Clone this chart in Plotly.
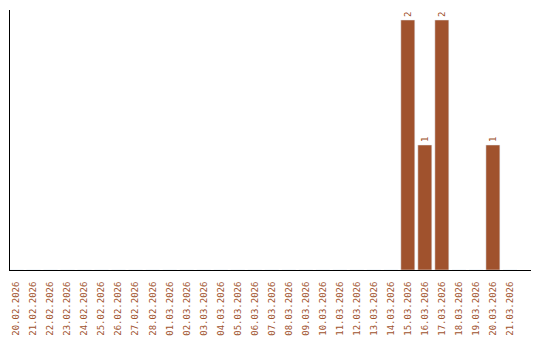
import plotly.graph_objects as go

dates = ["20.02.2026", "21.02.2026", "22.02.2026", "23.02.2026", "24.02.2026",
         "25.02.2026", "26.02.2026", "27.02.2026", "28.02.2026", "01.03.2026",
         "02.03.2026", "03.03.2026", "04.03.2026", "05.03.2026", "06.03.2026",
         "07.03.2026", "08.03.2026", "09.03.2026", "10.03.2026", "11.03.2026",
         "12.03.2026", "13.03.2026", "14.03.2026", "15.03.2026", "16.03.2026",
         "17.03.2026", "18.03.2026", "19.03.2026", "20.03.2026", "21.03.2026"]
counts = [0, 0, 0, 0, 0, 0, 0, 0, 0, 0,
          0, 0, 0, 0, 0, 0, 0, 0, 0, 0,
          0, 0, 0, 2, 1, 2, 0, 0, 1, 0]

color = "#a0522d"
labels = [str(v) if v else "" for v in counts]

fig = go.Figure(go.Bar(
    x=dates, y=counts, marker_color=color, width=0.82,
    text=labels, textposition="outside", textangle=-90,
    textfont=dict(family="DejaVu Sans Mono", size=9, color=color),
    cliponaxis=False,
))
fig.update_layout(
    width=540, height=340,
    margin=dict(l=10, r=9, t=10, b=70, autoexpand=False),
    plot_bgcolor="white", paper_bgcolor="white",
    showlegend=False,
    xaxis=dict(type="category", range=[-0.38, 30.24], tickangle=-90,
               showline=True, linecolor="black", linewidth=1,
               showgrid=False, ticks="", ticklabelstandoff=7, automargin=False,
               tickfont=dict(family="DejaVu Sans Mono", size=9, color=color)),
    yaxis=dict(range=[0, 2.08], showline=True, linecolor="black", linewidth=1,
               showgrid=False, showticklabels=False, ticks="", zeroline=False,
               automargin=False),
)
fig.write_html("out.html")
